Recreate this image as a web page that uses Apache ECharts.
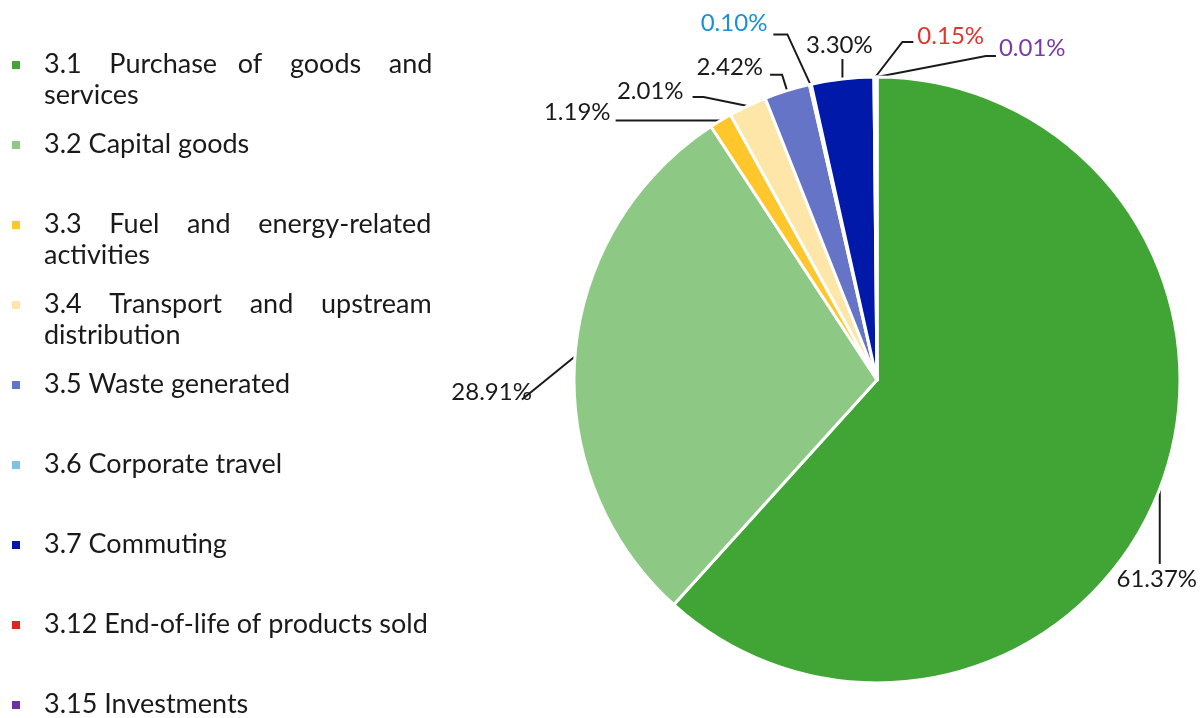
<!DOCTYPE html>
<html>
<head>
<meta charset="utf-8">
<script src="https://cdn.jsdelivr.net/npm/echarts@6/dist/echarts.min.js"></script>
<style>
  html, body { margin: 0; padding: 0; background: #fff; }
  #container { width: 1202px; height: 718px; }
</style>
</head>
<body>
<div id="container"></div>
<script>
// scope 3 categories and their share of emissions (%)
var categories = [
    '3.1 Purchase of goods and services',
    '3.2 Capital goods',
    '3.3 Fuel and energy-related activities',
    '3.4 Transport and upstream distribution',
    '3.5 Waste generated',
    '3.6 Corporate travel',
    '3.7 Commuting',
    '3.12 End-of-life of products sold',
    '3.15 Investments'
];
var shares = [61.37, 28.91, 1.19, 2.01, 2.42, 0.10, 3.30, 0.15, 0.01];
var colors = ['#41a535', '#8dc985', '#ffc72c', '#fde6a8', '#6674c8', '#7dc3e8', '#0019a8', '#da291c', '#7030a0'];
var labelColors = ['#1a1a1a', '#1a1a1a', '#1a1a1a', '#1a1a1a', '#1a1a1a', '#1a90d8', '#1a1a1a', '#e0352b', '#7a3aa8'];

// how the legend text wraps (first line is justified)
var legendWrap = {
    '3.1 Purchase of goods and services': ['3.1 Purchase of goods and', 'services'],
    '3.3 Fuel and energy-related activities': ['3.3 Fuel and energy-related', 'activities'],
    '3.4 Transport and upstream distribution': ['3.4 Transport and upstream', 'distribution']
};

// leader line bends and label anchor, relative to where the line leaves the slice
var labelPlace = [
    { line: [[0, 75]], label: [-3, 90], align: 'center' },
    { line: [[-53, 43]], label: [-43, 36], align: 'right' },
    { line: [[-105, 0]], label: [-110, -8], align: 'right' },
    { line: [[-44, -9], [-55, -9]], label: [-64, -15], align: 'right' },
    { line: [[-5, -16], [-17, -16]], label: [-24, -23], align: 'right' },
    { line: [[-23, -50], [-37, -50]], label: [-43, -61], align: 'right' },
    { line: [[0, -20]], label: [-3, -34], align: 'center' },
    { line: [[27, -35], [38, -35]], label: [42, -41], align: 'left' },
    { line: [[109, -21], [119, -21]], label: [122, -29], align: 'left' }
];

var legendFont = '27px Lato';
var justifyWidth = 387;

// pad the gaps between words with spaces so the line fills the width
var ctx = document.createElement('canvas').getContext('2d');
ctx.font = legendFont;
function justify(line) {
    var words = line.split(' ');
    var gaps = words.length - 1;
    var spaceW = ctx.measureText(' ').width;
    var extra = justifyWidth - ctx.measureText(line).width;
    var out = words[0];
    var used = 0;
    for (var i = 1; i < words.length; i++) {
        var want = Math.round(extra * i / gaps / spaceW) - used;
        used += want;
        out += new Array(want + 2).join(' ') + words[i];
    }
    return out;
}

var dom = document.getElementById('container');
var myChart = echarts.init(dom);

var pieData = categories.map(function (name, i) {
    return {
        name: name,
        value: shares[i],
        itemStyle: { color: colors[i] },
        label: { color: labelColors[i] }
    };
});

var option = {
    animation: false,
    color: colors,
    legend: {
        orient: 'vertical',
        left: 10,
        top: 49,
        height: 712,
        padding: 0,
        itemGap: 18,
        itemWidth: 10,
        itemHeight: 40,
        icon: 'path://M0,0h10v10h-10zM0,40h0.01v0.01h-0.01z',
        data: categories,
        formatter: function (name) {
            var w = legendWrap[name];
            if (w) return justify(w[0]) + '\n' + w[1];
            return name + '\n ';
        },
        textStyle: {
            fontFamily: 'Lato',
            fontSize: 27,
            lineHeight: 31,
            color: '#1a1a1a',
            padding: [0, 0, 0, 18]
        }
    },
    series: [{
        type: 'pie',
        center: [877, 380],
        radius: 303,
        startAngle: 90,
        clockwise: true,
        avoidLabelOverlap: false,
        itemStyle: {
            borderColor: '#fff',
            borderWidth: 3
        },
        label: {
            show: true,
            position: 'outside',
            fontFamily: 'Lato',
            fontSize: 24,
            formatter: function (p) {
                return p.value.toFixed(2) + '%';
            }
        },
        labelLine: {
            show: true,
            length: 15,
            length2: 15,
            lineStyle: { color: '#1a1a1a', width: 2 }
        },
        labelLayout: function (params) {
            var place = labelPlace[params.dataIndex];
            var p0 = params.labelLinePoints ? params.labelLinePoints[0] : [0, 0];
            var pts = [[p0[0], p0[1]]];
            place.line.forEach(function (d) {
                pts.push([p0[0] + d[0], p0[1] + d[1]]);
            });
            return {
                x: p0[0] + place.label[0],
                y: p0[1] + place.label[1],
                align: place.align,
                verticalAlign: 'middle',
                labelLinePoints: pts
            };
        },
        data: pieData
    }]
};

if (option && typeof option === 'object') {
    myChart.setOption(option, true);
}
</script>
</body>
</html>
